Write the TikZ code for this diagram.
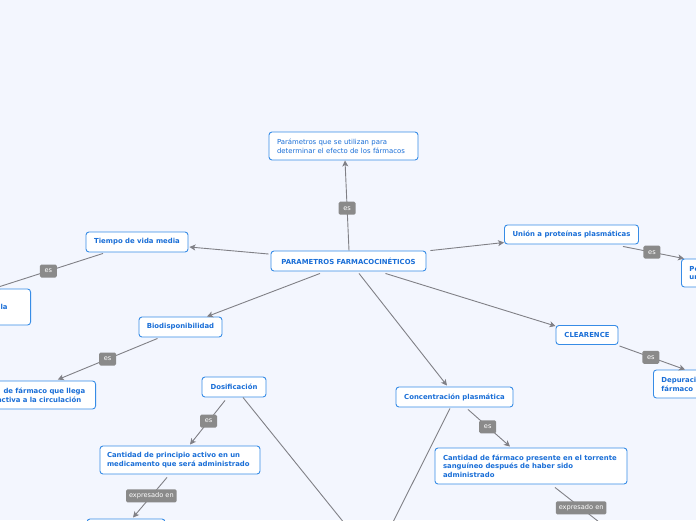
\documentclass[tikz,border=0pt]{standalone}
\usepackage{fontspec}
\setmainfont{DejaVu Sans}
\usetikzlibrary{arrows.meta,calc}
\definecolor{bgcol}{RGB}{243,246,254}
\definecolor{txtblue}{RGB}{25,110,215}
\definecolor{boxblue}{RGB}{55,140,230}
\definecolor{labgray}{RGB}{138,138,138}
\definecolor{edgegray}{RGB}{128,128,134}
\begin{document}
\begin{tikzpicture}[x=1pt,y=-1pt,
 box/.style={draw=boxblue, fill=white, rounded corners=3pt, line width=0.9pt, text=txtblue,
   font=\bfseries\fontsize{6.9}{8.6}\selectfont, inner xsep=6pt, inner ysep=2pt},
 lab/.style={fill=labgray, rounded corners=1.5pt, text=white, font=\fontsize{6.6}{7}\selectfont,
   inner xsep=3pt, inner ysep=0pt, minimum height=13pt, minimum width=17pt},
 conn/.style={draw=edgegray, line width=0.9pt},
 arr/.style={conn, -{Stealth[length=6pt,width=6pt,inset=1.5pt]}}
]
\fill[bgcol] (0,0) rectangle (696,520);
\useasboundingbox (0,0) rectangle (696,520);

% nodes
\node[box, text width=133pt, align=left, minimum height=28pt, inner xsep=8pt,
  font=\fontsize{6.9}{8.6}\selectfont] (pt) at (343.5,146)
  {Parámetros que se utilizan para\\determinar el efecto de los fármacos};
\node[box, minimum width=155pt, minimum height=20pt, inner xsep=5pt] (pf) at (348.5,261) {PARAMETROS FARMACOCINÉTICOS};
\node[box, minimum width=102pt, minimum height=20pt] (tv) at (137,242) {Tiempo de vida media};
\node[box, anchor=east, text width=40pt, align=right, inner xsep=23pt, minimum height=36pt] (la) at (31,307) {la};
\node[box, minimum width=83pt, minimum height=20pt] (bd) at (180.5,327) {Biodisponibilidad};
\node[box, anchor=east, text width=90.5pt, align=left, inner xsep=8pt, minimum height=28pt] (fl) at (96,395)
  {\hspace*{6.5pt}de fármaco que llega\\activa a la circulación};
\node[box, minimum width=64pt, minimum height=20pt] (ds) at (234,387) {Dosificación};
\node[box, text width=146pt, align=left, minimum height=28pt, inner xsep=7pt] (cp) at (180,460)
  {Cantidad de principio activo en un\\medicamento que será administrado};
\node[box, minimum width=78pt, minimum height=32pt] (bl) at (126,535) {};
\node[box, minimum width=117pt, minimum height=20pt] (cc) at (454.5,397) {Concentración plasmática};
\node[box, text width=176pt, align=left, minimum height=36pt, inner xsep=8pt] (cf) at (531,466)
  {Cantidad de fármaco presente en el torrente\\sanguíneo después de haber sido\\administrado};
\node[box, minimum width=134pt, minimum height=19pt] (up) at (571.5,234.5) {Unión a proteínas plasmáticas};
\node[box, anchor=west, text width=60pt, align=left, inner xsep=8pt, minimum height=28pt] (po) at (681,273) {Po\\un};
\node[box, minimum width=62pt, minimum height=19pt] (cl) at (587,335) {CLEARENCE};
\node[box, anchor=west, text width=60pt, align=left, inner xsep=8pt, minimum height=28pt] (dp) at (653,384) {Depuración\\fármaco};
\coordinate (cvg) at (374,560);
\coordinate (cvg2) at (622,540);

% connectors
\draw[arr] ($(pf.north)+(0.5,0)$) -- node[lab, pos=0.47]{es} ($(pt.south)+(1.5,0)$);
\draw[arr] ($(pf.west)+(-2,-7)$) -- ($(tv.east)+(1,5)$);
\draw[arr] ($(pf.south)+(-28.5,2)$) -- ($(bd.north)+(26.5,0)$);
\draw[arr] ($(pf.south)+(10.5,2)$) -- ($(cc.north)+(-7.5,-1)$);
\draw[arr] ($(pf.north east)+(4,0)$) -- ($(up.west)+(0,8)$);
\draw[arr] ($(pf.south east)+(-41,2)$) -- ($(cl.north west)+(0,1)$);
\draw[arr] ($(tv.south)+(-34,1)$) -- node[lab, pos=0.5]{es} ($(la.north)+(6,0)$);
\draw[arr] ($(bd.south)+(-23,1)$) -- node[lab, pos=0.5]{es} ($(fl.north)+(15.5,-1)$);
\draw[arr] ($(ds.south)+(-9,3)$) -- node[lab, pos=0.47]{es} ($(cp.north)+(10,-1)$);
\draw[arr] ($(ds.south)+(9,0)$) -- (cvg);
\draw[arr] ($(cp.south)+(-13,3)$) -- node[lab, pos=0.46]{expresado en} ($(bl.north)+(7,-1)$);
\draw[arr] ($(cc.south)+(13.5,2)$) -- node[lab, pos=0.47]{es} ($(cf.north)+(-21,-1)$);
\draw[arr] ($(cc.south)+(-4.5,1)$) -- (cvg);
\draw[arr] ($(cf.south)+(24,3)$) -- node[lab, pos=0.39]{expresado en} (cvg2);
\draw[arr] ($(up.south)+(51.5,2)$) -- node[lab, pos=0.475]{es} ($(po.north west)+(3,0)$);
\draw[arr] ($(cl.south east)+(1,1)$) -- node[lab, pos=0.48]{es} ($(dp.north west)+(32,0)$);
\end{tikzpicture}
\end{document}
